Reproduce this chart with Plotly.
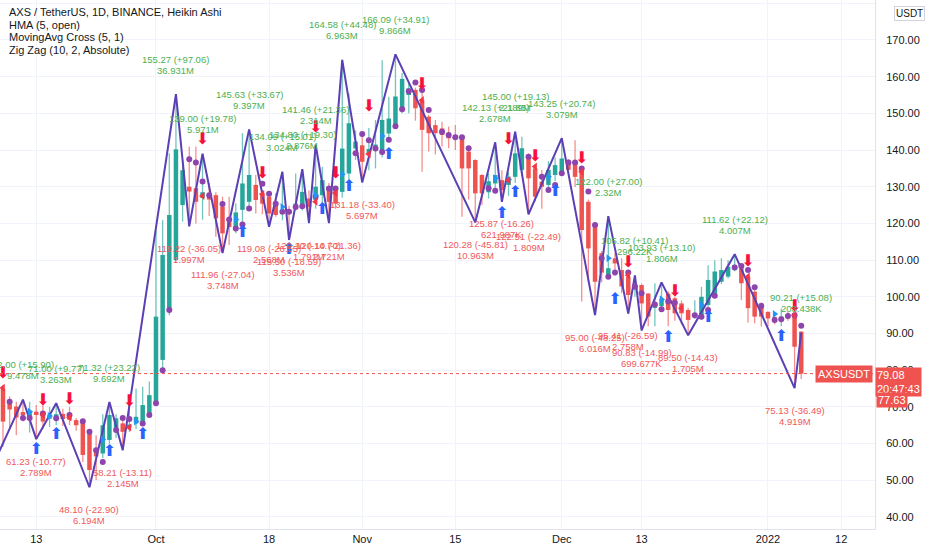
import pandas as pd
import plotly.graph_objects as go

# AXS / USDT daily, Heikin Ashi candles (2021-09-08 .. 2022-01-06)
days = pd.date_range("2021-09-08", "2022-01-06", freq="D")

ha_open = [
    75.0, 71.9, 70.1, 68.6, 67.5, 68.7, 68.7, 66.8, 67.4, 68.1,
    68.1, 66.4, 66.0, 62.8, 57.9, 57.3, 61.0, 64.1, 65.5, 64.4,
    65.5, 66.0, 67.8, 71.0, 82.8, 96.4, 110.0, 125.0, 130.0, 129.6,
    127.0, 127.7, 127.7, 124.6, 121.1, 119.0, 123.7, 125.9, 130.5, 128.2,
    127.3, 125.4, 122.6, 123.5, 124.1, 124.5, 126.8, 126.4, 127.7, 130.0,
    129.1, 128.6, 133.6, 140.4, 141.3, 139.0, 140.0, 140.0, 144.5, 146.8,
    150.9, 155.0, 156.4, 153.6, 149.1, 146.8, 145.9, 144.6, 144.1, 143.6,
    139.6, 137.3, 133.2, 128.5, 130.9, 131.8, 130.5, 132.7, 134.6, 138.4,
    135.0, 131.4, 130.5, 133.2, 134.1, 136.8, 136.8, 134.6, 125.9, 119.6,
    111.9, 106.0, 110.5, 107.3, 105.5, 102.0, 103.2, 100.9, 97.0, 97.5,
    100.9, 99.6, 98.2, 96.4, 94.6, 94.6, 97.8, 100.5, 104.1, 105.5,
    107.3, 107.8, 105.5, 101.4, 98.2, 95.9, 94.4, 93.8, 95.0, 95.0,
    90.5,
]
ha_high = [
    76.0, 72.8, 71.4, 72.0, 71.4, 70.5, 71.0, 70.0, 71.0, 69.5,
    70.0, 67.0, 66.5, 63.2, 62.3, 68.0, 71.3, 68.0, 66.5, 72.8,
    75.0, 75.5, 76.9, 118.2, 120.9, 139.1, 155.3, 137.3, 141.0, 141.0,
    139.0, 131.0, 128.5, 127.3, 127.3, 125.5, 144.6, 145.6, 133.2, 129.0,
    128.0, 128.2, 134.1, 124.8, 133.6, 134.8, 129.0, 141.5, 135.4, 131.0,
    130.0, 164.6, 155.4, 145.4, 144.5, 146.0, 148.2, 164.5, 154.5, 166.1,
    161.0, 158.5, 157.0, 155.9, 149.6, 148.2, 147.7, 146.4, 146.8, 143.8,
    140.0, 137.5, 133.5, 133.6, 142.1, 134.5, 134.0, 145.0, 143.6, 139.1,
    135.5, 134.6, 137.0, 138.0, 143.3, 137.5, 142.7, 134.8, 126.5, 120.0,
    112.5, 122.0, 111.9, 110.5, 106.0, 105.8, 103.6, 101.0, 103.7, 103.9,
    101.5, 100.0, 99.0, 97.0, 99.1, 102.7, 108.6, 110.0, 110.5, 110.0,
    111.6, 108.6, 106.0, 101.8, 98.5, 96.0, 95.5, 96.8, 96.0, 95.5,
    90.6,
]
ha_low = [
    59.1, 64.0, 62.3, 66.0, 63.0, 61.2, 64.0, 64.5, 65.0, 64.8,
    65.0, 63.5, 55.0, 48.1, 50.1, 56.0, 60.0, 61.5, 58.2, 63.2,
    64.0, 65.0, 67.3, 70.5, 80.0, 95.0, 109.6, 120.5, 119.2, 120.0,
    121.0, 122.0, 116.4, 112.0, 114.1, 117.3, 120.0, 124.0, 122.7, 122.5,
    119.1, 121.8, 120.9, 115.5, 123.5, 123.5, 120.1, 124.0, 124.5, 120.1,
    124.0, 127.0, 132.0, 137.3, 131.2, 134.5, 135.0, 138.0, 142.5, 146.0,
    150.0, 150.0, 148.0, 134.1, 139.6, 138.8, 141.0, 140.5, 140.0, 121.8,
    126.5, 120.3, 125.0, 126.8, 128.5, 125.9, 127.5, 131.0, 133.0, 122.5,
    126.0, 124.0, 129.0, 131.5, 133.0, 133.5, 129.9, 98.7, 104.0, 95.0,
    104.0, 105.0, 105.8, 101.0, 95.4, 100.0, 90.8, 92.0, 92.0, 96.0,
    92.0, 93.5, 92.5, 89.5, 94.0, 93.7, 97.0, 100.0, 103.5, 105.0,
    107.0, 99.1, 93.0, 92.8, 91.9, 91.9, 92.5, 92.0, 93.5, 75.9,
    77.6,
]
ha_close = [
    66.0, 69.3, 67.1, 67.7, 68.5, 67.8, 66.0, 67.9, 68.0, 66.7,
    66.5, 65.0, 56.9, 52.8, 56.5, 65.0, 67.8, 66.9, 63.2, 65.2,
    67.3, 70.5, 73.2, 94.6, 111.4, 122.3, 140.2, 134.5, 128.7, 125.9,
    128.5, 126.5, 121.4, 117.3, 119.0, 123.0, 130.9, 133.2, 126.4, 125.4,
    122.7, 122.3, 123.5, 122.6, 125.4, 128.6, 124.5, 130.0, 131.8, 125.9,
    125.4, 140.4, 147.3, 142.3, 136.8, 140.3, 141.5, 148.2, 148.6, 154.6,
    159.4, 156.8, 151.4, 145.5, 144.6, 144.6, 144.1, 143.2, 143.2, 135.0,
    135.0, 128.2, 128.2, 131.5, 133.2, 129.1, 132.5, 139.1, 140.5, 132.3,
    127.3, 130.0, 134.6, 135.9, 137.7, 134.6, 132.7, 118.2, 113.2, 104.1,
    106.6, 107.8, 109.1, 102.8, 100.5, 103.3, 98.2, 94.6, 98.0, 99.5,
    96.4, 95.5, 95.5, 93.7, 95.5, 100.0, 104.6, 106.9, 107.3, 108.2,
    108.7, 103.7, 96.9, 94.6, 94.6, 94.1, 93.9, 94.6, 94.1, 86.4,
    79.08,
]

# HMA (5, open) dots: candle index and value
hma_idx = [1, 3, 4, 6, 8, 10, 12, 13, 14, 15, 17, 18, 19, 21, 22, 23, 24, 25,
           28, 29, 30, 31, 33, 34, 35, 36, 37, 39, 40, 41, 42, 43, 44, 45, 47,
           49, 50, 53, 54, 55, 56, 57, 58, 59, 60, 61, 62, 63, 64, 66, 67, 68,
           69, 70, 73, 74, 79, 81, 82, 83, 84, 85, 86, 87, 88, 89, 90, 91, 92,
           94, 95, 96, 98, 99, 100, 101, 104, 105, 106, 107, 110, 111, 112,
           113, 114, 116, 117, 118, 119, 120]
hma_val = [71.4, 67.0, 67.0, 68.2, 66.9, 67.8, 66.1, 63.2, 58.2, 55.0, 63.7,
           67.0, 66.7, 65.5, 67.8, 71.0, 80.0, 96.4, 137.5, 136.6, 131.4,
           127.7, 125.3, 121.1, 118.6, 119.7, 124.1, 130.8, 128.1, 125.4,
           123.2, 123.2, 124.5, 124.7, 127.3, 129.5, 129.5, 139.1, 144.4,
           142.7, 140.4, 139.5, 142.8, 146.5, 151.1, 156.0, 158.4, 156.4,
           150.9, 145.0, 144.1, 143.5, 143.5, 140.5, 129.6, 128.9, 138.2,
           132.7, 129.1, 130.5, 133.7, 136.6, 136.6, 135.0, 128.7, 119.6,
           110.5, 105.5, 106.6, 106.6, 102.8, 101.0, 97.9, 96.6, 98.7, 98.4,
           95.0, 94.6, 96.4, 100.3, 108.0, 108.4, 107.3, 102.6, 97.5, 93.7,
           93.9, 94.8, 95.0, 92.1]

# MovingAvg Cross (5, 1) signals
buy_idx = [5, 8, 16, 21, 36, 43, 48, 52, 58, 75, 77, 83, 92, 100, 106, 117]
buy_val = [58.2, 62.3, 57.8, 62.3, 117.3, 112.7, 123.6, 130.0, 138.6, 122.7,
           128.2, 128.7, 99.1, 88.7, 94.1, 89.1]
sell_idx = [0, 6, 10, 19, 30, 39, 47, 50, 55, 63, 76, 80, 87, 94, 101, 112, 119]
sell_val = [79.1, 71.6, 71.9, 71.4, 142.7, 133.4, 145.9, 133.6, 151.8, 157.8,
            142.7, 138.0, 137.7, 109.1, 101.4, 109.6, 97.3]
cross_up_idx = [4, 7, 15, 20, 35, 42, 47, 51, 57, 74, 76, 82, 91, 99, 105, 116]
cross_up_val = [68.7, 67.5, 61.1, 66.0, 121.1, 124.5, 127.7, 133.4, 143.8,
                132.3, 132.0, 132.7, 110.5, 99.3, 97.8, 95.3]
cross_dn_idx = [0, 6, 10, 19, 30, 39, 47, 50, 55, 63, 76, 80, 87, 94, 102, 112, 119]
cross_dn_val = [75.2, 67.8, 67.1, 64.4, 127.5, 128.0, 125.9, 128.3, 138.9,
                153.6, 131.8, 135.5, 134.1, 105.9, 96.9, 105.5, 95.0]

# Zig Zag (10, 2, Absolute) pivots
zz_dates = ["2021-09-07", "2021-09-11", "2021-09-13", "2021-09-16", "2021-09-21",
            "2021-09-24", "2021-09-26", "2021-10-04", "2021-10-06", "2021-10-08",
            "2021-10-11", "2021-10-15", "2021-10-18", "2021-10-20", "2021-10-21",
            "2021-10-23", "2021-10-24", "2021-10-25", "2021-10-27", "2021-10-29",
            "2021-11-01", "2021-11-06", "2021-11-18", "2021-11-21", "2021-11-22",
            "2021-11-24", "2021-11-26", "2021-12-01", "2021-12-06", "2021-12-08",
            "2021-12-11", "2021-12-12", "2021-12-13", "2021-12-16", "2021-12-20",
            "2021-12-27", "2022-01-05", "2022-01-06"]
zz_price = [56.10, 72.00, 61.23, 71.00, 48.10, 71.32, 58.21, 155.27, 119.22,
            139.00, 111.96, 145.63, 119.08, 134.09, 115.50, 134.80, 120.10,
            141.46, 120.10, 164.58, 131.18, 166.09, 120.28, 142.13, 125.87,
            145.00, 122.51, 143.25, 95.00, 122.00, 95.41, 105.82, 90.83,
            103.93, 89.50, 111.62, 75.13, 90.21]
zz_vol = ["", "9.478M", "2.789M", "3.263M", "6.194M", "9.692M", "2.145M",
          "36.931M", "1.997M", "5.971M", "3.748M", "9.397M", "2.568M", "3.024M",
          "3.536M", "2.876M", "1.791M", "2.314M", "2.721M", "6.963M", "5.697M",
          "9.866M", "10.963M", "2.678M", "621.987K", "2.189M", "1.809M",
          "3.079M", "6.016M", "2.32M", "2.758M", "296.22K", "699.677K",
          "1.806M", "1.705M", "4.007M", "4.919M", "203.438K"]

tick_dates = ["2021-09-13", "2021-10-01", "2021-10-18", "2021-11-01", "2021-11-15",
              "2021-12-01", "2021-12-13", "2022-01-01", "2022-01-12"]
tick_text = ["13", "Oct", "18", "Nov", "15", "Dec", "13", "2022", "12"]
price_ticks = list(range(40, 190, 10))

bar_close = 77.63
countdown = "20:47:43"

GREEN = "#26a69a"
RED = "#ef5350"
LBL_GREEN = "#4caf50"
LBL_RED = "#f0595a"

n = len(days)
up = [i for i in range(n) if ha_close[i] >= ha_open[i]]
dn = [i for i in range(n) if ha_close[i] < ha_open[i]]


def segments(idx, a, b):
    xs, ys = [], []
    for i in idx:
        xs += [days[i], days[i], None]
        ys += [a[i], b[i], None]
    return xs, ys


fig = go.Figure()

for idx, col, wick in [(up, GREEN, "rgba(38,166,154,0.65)"), (dn, RED, "rgba(239,83,80,0.65)")]:
    wx, wy = segments(idx, ha_low, ha_high)
    fig.add_trace(go.Scatter(x=wx, y=wy, mode="lines", line=dict(color=wick, width=1.3),
                             hoverinfo="skip"))
    bx, by = segments(idx, ha_open, ha_close)
    fig.add_trace(go.Scatter(x=bx, y=by, mode="lines", line=dict(color=col, width=4.5),
                             hoverinfo="skip"))

# zig zag line
fig.add_trace(go.Scatter(x=zz_dates, y=zz_price, mode="lines",
                         line=dict(color="#5a3fb5", width=2)))

# HMA dots
fig.add_trace(go.Scatter(x=[days[i] for i in hma_idx], y=hma_val, mode="markers",
                         marker=dict(color="#8e44ad", size=6)))

fig.add_trace(go.Scatter(x=[days[i] for i in cross_up_idx], y=cross_up_val, mode="markers",
                         marker=dict(symbol="triangle-right", color="#2196f3", size=7)))
fig.add_trace(go.Scatter(x=[days[i] for i in cross_dn_idx], y=cross_dn_val, mode="markers",
                         marker=dict(symbol="triangle-left", color="#f23645", size=7)))

fig.add_trace(go.Scatter(x=[days[i] for i in buy_idx], y=buy_val, mode="text",
                         text=["⬆"] * len(buy_idx),
                         textfont=dict(family="DejaVu Sans", size=16, color="#2962ff")))
fig.add_trace(go.Scatter(x=[days[i] for i in sell_idx], y=sell_val, mode="text",
                         text=["⬇"] * len(sell_idx),
                         textfont=dict(family="DejaVu Sans", size=16, color="#f7103c")))

# zig zag labels
for k in range(1, len(zz_price)):
    p = zz_price[k]
    chg = p - zz_price[k - 1]
    col = LBL_GREEN if chg > 0 else LBL_RED
    shifts = (35, 24) if chg > 0 else (-22, -33)
    for txt, ys in zip([f"{p:.2f} ({chg:+.2f})", zz_vol[k]], shifts):
        fig.add_annotation(x=zz_dates[k], y=p, text=txt, showarrow=False,
                           yanchor="middle", yshift=ys,
                           font=dict(family="Arial", size=9.5, color=col))

# last price line and tags
last = ha_close[-1]
fig.add_hline(y=last, line=dict(color=RED, width=1, dash="dot"))
fig.add_annotation(xref="paper", x=1, y=last, xanchor="right", xshift=-2,
                   text="AXSUSDT", showarrow=False, bgcolor=RED,
                   font=dict(family="Arial", size=11, color="white"), borderpad=2)
fig.add_annotation(xref="paper", x=1, y=last, xanchor="left", yanchor="top", yshift=7,
                   text=f"{last:.2f}<br>{countdown}", showarrow=False, bgcolor=RED,
                   align="left", font=dict(family="Arial", size=11, color="white"),
                   borderpad=1)
fig.add_annotation(xref="paper", x=1, y=last, xanchor="left", yanchor="top", yshift=-18,
                   xshift=1, text=f"{bar_close:.2f}", showarrow=False, bgcolor=RED,
                   font=dict(family="Arial", size=11, color="white"), borderpad=1)

# currency tag on price scale
fig.add_annotation(xref="paper", yref="paper", x=1, y=1, xanchor="left", yanchor="top",
                   xshift=19, yshift=-6, text="USDT", showarrow=False, bgcolor="white",
                   bordercolor="#d1d4dc", borderwidth=1, borderpad=1,
                   font=dict(family="Arial", size=10, color="#131722"))

# legend block
legend_lines = ["AXS / TetherUS, 1D, BINANCE, Heikin Ashi", "HMA (5, open)",
                "MovingAvg Cross (5, 1)", "Zig Zag (10, 2, Absolute)"]
for k, t in enumerate(legend_lines):
    fig.add_annotation(xref="paper", yref="paper", x=0, y=1, xanchor="left",
                       yanchor="middle", xshift=7, yshift=-12 - 12.6 * k, text=t,
                       showarrow=False, font=dict(family="Arial", size=11, color="#131722"))

fig.update_layout(
    width=932, height=550,
    margin=dict(l=0, r=57, t=0, b=21),
    paper_bgcolor="white", plot_bgcolor="white",
    showlegend=False,
    font=dict(family="Arial", size=11, color="#131722"),
    xaxis=dict(
        type="date",
        range=["2021-09-07 13:12", "2022-01-17 02:10"],
        tickvals=tick_dates, ticktext=tick_text,
        showgrid=True, gridcolor="#f0f3fa", gridwidth=1,
        showline=True, linecolor="#e0e3eb", linewidth=1,
        zeroline=False, ticks="",
    ),
    yaxis=dict(
        side="right",
        range=[36.72, 180.9],
        tickvals=price_ticks,
        ticktext=[f"{v:.2f}" for v in price_ticks],
        showgrid=True, gridcolor="#f0f3fa", gridwidth=1,
        showline=True, linecolor="#e0e3eb", linewidth=1,
        zeroline=False, ticks="", ticklabelstandoff=8,
    ),
)

fig.write_html("out.html", config={"displayModeBar": False},
               post_script="document.body.style.margin='0';")
